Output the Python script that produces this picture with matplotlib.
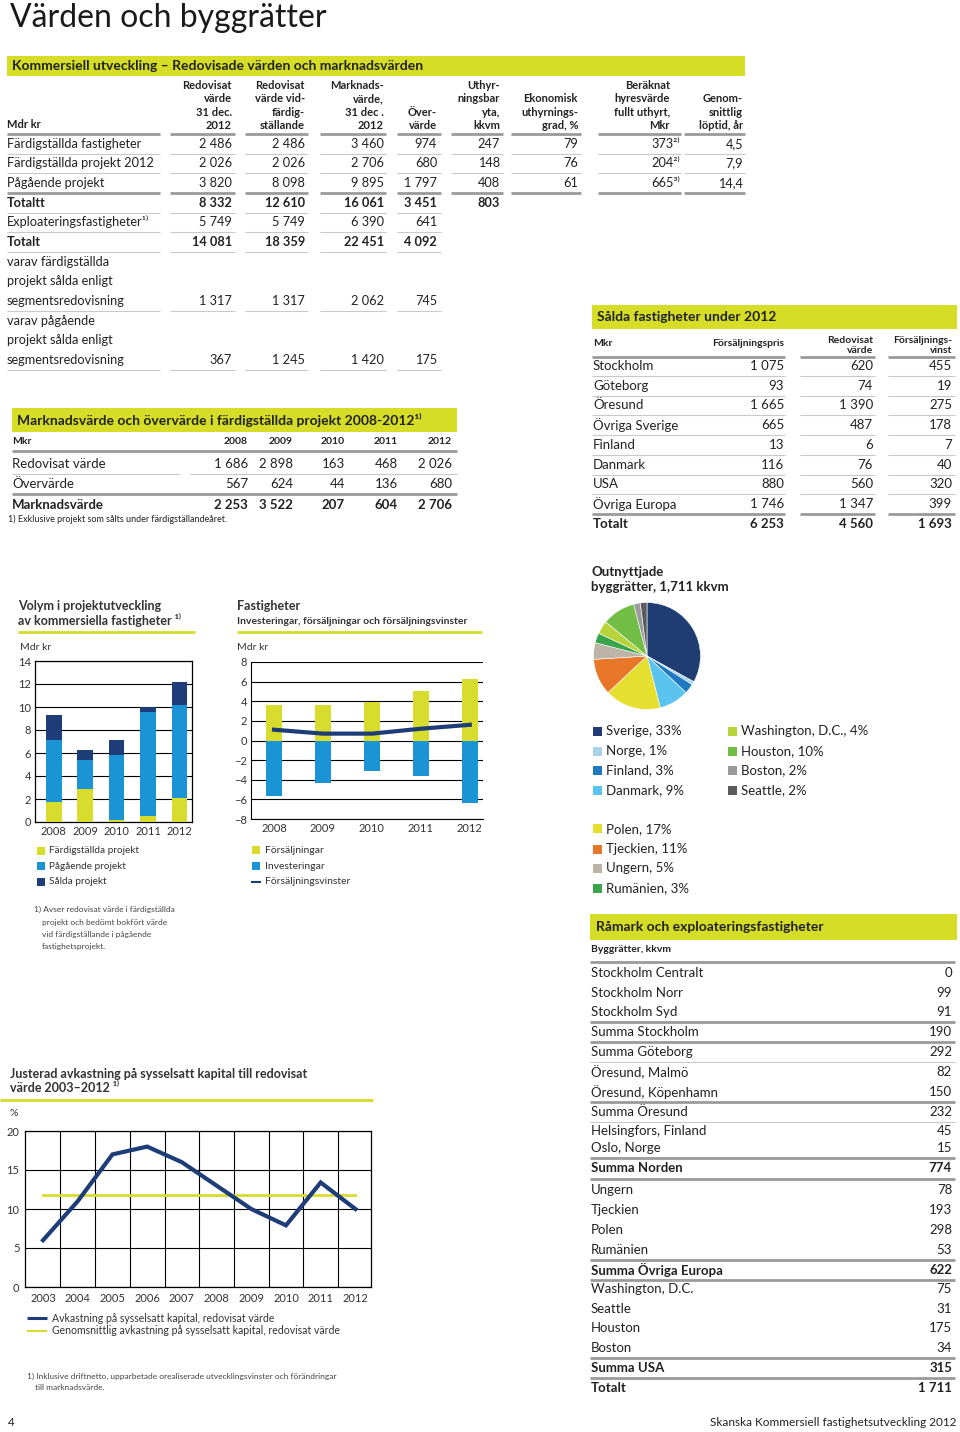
import matplotlib
matplotlib.use("Agg")
import matplotlib.pyplot as plt
from matplotlib.lines import Line2D
from matplotlib.patches import Rectangle

plt.rcParams['font.family'] = ['Lato', 'DejaVu Sans']

W, H = 960, 1432
GREEN = "#d5dd26"
YEL = "#d8dc2c"
BLUE = "#1a94d4"
NAVY = "#1d3c78"
TXT = "#222222"
THICK = "#9a9a9a"
THIN = "#c9c9c9"

# ---------------- data ----------------
top_cols = ["Redovisat\nvärde\n31 dec.\n2012", "Redovisat\nvärde vid-\nfärdig-\nställande",
            "Marknads-\nvärde,\n31 dec .\n2012", "Över-\nvärde", "Uthyr-\nningsbar\nyta,\nkkvm",
            "Ekonomisk\nuthyrnings-\ngrad, %", "Beräknat\nhyresvärde\nfullt uthyrt,\nMkr",
            "Genom-\nsnittlig\nlöptid, år"]
top_rows = ["Färdigställda fastigheter", "Färdigställda projekt 2012", "Pågående projekt", "Totaltt",
            "Exploateringsfastigheter¹⁾", "Totalt", "varav färdigställda", "projekt sålda enligt",
            "segmentsredovisning", "varav pågående", "projekt sålda enligt", "segmentsredovisning"]
top_vals = [
    ["2 486", "2 486", "3 460", "974", "247", "79", "373²⁾", "4,5"],
    ["2 026", "2 026", "2 706", "680", "148", "76", "204²⁾", "7,9"],
    ["3 820", "8 098", "9 895", "1 797", "408", "61", "665³⁾", "14,4"],
    ["8 332", "12 610", "16 061", "3 451", "803", "", "", ""],
    ["5 749", "5 749", "6 390", "641", "", "", "", ""],
    ["14 081", "18 359", "22 451", "4 092", "", "", "", ""],
    ["", "", "", "", "", "", "", ""],
    ["", "", "", "", "", "", "", ""],
    ["1 317", "1 317", "2 062", "745", "", "", "", ""],
    ["", "", "", "", "", "", "", ""],
    ["", "", "", "", "", "", "", ""],
    ["367", "1 245", "1 420", "175", "", "", "", ""],
]
top_bold = [3, 5]

mv_years = ["2008", "2009", "2010", "2011", "2012"]
mv_rows = ["Redovisat värde", "Övervärde", "Marknadsvärde"]
mv_vals = [["1 686", "2 898", "163", "468", "2 026"],
           ["567", "624", "44", "136", "680"],
           ["2 253", "3 522", "207", "604", "2 706"]]

sold_rows = ["Stockholm", "Göteborg", "Öresund", "Övriga Sverige", "Finland", "Danmark", "USA",
             "Övriga Europa", "Totalt"]
sold_price = ["1 075", "93", "1 665", "665", "13", "116", "880", "1 746", "6 253"]
sold_book = ["620", "74", "1 390", "487", "6", "76", "560", "1 347", "4 560"]
sold_gain = ["455", "19", "275", "178", "7", "40", "320", "399", "1 693"]

pie_labels = ["Sverige", "Norge", "Finland", "Danmark", "Polen", "Tjeckien", "Ungern", "Rumänien",
              "Washington, D.C.", "Houston", "Boston", "Seattle"]
pie_pct = [33, 1, 3, 9, 17, 11, 5, 3, 4, 10, 2, 2]
pie_colors = ["#1f3d73", "#aad3ea", "#1f78c1", "#5ac4ef", "#e5e02f", "#e8772a", "#bcb4a6",
              "#3aa44a", "#b9d43a", "#72bd46", "#9b9b9b", "#5b5b5b"]

ram_rows = ["Stockholm Centralt", "Stockholm Norr", "Stockholm Syd", "Summa Stockholm",
            "Summa Göteborg", "Öresund, Malmö", "Öresund, Köpenhamn", "Summa Öresund",
            "Helsingfors, Finland", "Oslo, Norge", "Summa Norden", "Ungern", "Tjeckien", "Polen",
            "Rumänien", "Summa Övriga Europa", "Washington, D.C.", "Seattle", "Houston", "Boston",
            "Summa USA", "Totalt"]
ram_vals = ["0", "99", "91", "190", "292", "82", "150", "232", "45", "15", "774", "78", "193",
            "298", "53", "622", "75", "31", "175", "34", "315", "1 711"]
ram_y = [973, 993, 1012, 1032, 1052, 1072, 1092, 1112, 1131, 1148, 1168, 1190, 1210, 1230, 1250,
         1270, 1289, 1309, 1328, 1348, 1368, 1388]
ram_bold = [10, 15, 20, 21]

vol_years = ["2008", "2009", "2010", "2011", "2012"]
vol_fard = [1.7, 2.9, 0.2, 0.5, 2.1]
vol_pag = [5.4, 2.5, 5.6, 9.1, 8.1]
vol_sald = [2.2, 0.9, 1.3, 0.4, 2.0]

fast_sales = [3.6, 3.6, 3.9, 5.0, 6.3]
fast_inv = [-5.7, -4.3, -3.1, -3.6, -6.4]
fast_gain = [1.1, 0.7, 0.7, 1.2, 1.6]

roce_years = ["2003", "2004", "2005", "2006", "2007", "2008", "2009", "2010", "2011", "2012"]
roce = [6.0, 11.0, 17.0, 18.0, 16.0, 13.0, 10.0, 7.9, 13.4, 10.0]
roce_avg = 11.8

# ---------------- helpers ----------------
fig = plt.figure(figsize=(W / 100, H / 100), dpi=100)
fig.patch.set_facecolor("white")


def X(px):
    return px / W


def Y(py):
    return 1 - py / H


def txt(x, y, s, size=9, bold=False, ha="left", va="center", color=TXT, **kw):
    fig.text(X(x), Y(y), s, fontsize=size, fontweight="bold" if bold else "normal",
             ha=ha, va=va, color=color, **kw)


def hline(x0, x1, y, lw=0.8, color=THIN):
    fig.add_artist(Line2D([X(x0), X(x1)], [Y(y), Y(y)], transform=fig.transFigure,
                          lw=lw, color=color, solid_capstyle="butt"))


def box(x0, y0, x1, y1, color):
    fig.add_artist(Rectangle((X(x0), Y(y1)), (x1 - x0) / W, (y1 - y0) / H,
                             transform=fig.transFigure, color=color, lw=0))


def axes_px(l, t, r, b):
    return fig.add_axes([X(l), Y(b), (r - l) / W, (b - t) / H])


# ---------------- page title ----------------
txt(10, 27, "Värden och byggrätter", size=23, color="#1a1a1a", va="baseline")

# ---------------- top table ----------------
box(7, 56, 745, 76, GREEN)
txt(12, 66, "Kommersiell utveckling – Redovisade värden och marknadsvärden", size=10, bold=True)
col_r = [232, 305, 384, 437, 500, 578, 680, 743]
col_seg = [(170, 235), (245, 308), (320, 386), (397, 441), (451, 503), (511, 581), (598, 681), (684, 745)]
txt(7, 125, "Mdr kr", size=8, bold=True)
for c, lab in enumerate(top_cols):
    txt(col_r[c] if c != 6 else 670, 131, lab, size=8, bold=True, ha="right", va="bottom",
        linespacing=1.25, multialignment="right")
hline(7, 160, 134, lw=2, color=THICK)
for x0, x1 in col_seg:
    hline(x0, x1, 134, lw=2, color=THICK)

row_y = [144, 163, 183, 203, 222, 242, 262, 281, 301, 321, 340, 360]
for i, lab in enumerate(top_rows):
    y = row_y[i]
    txt(7, y, lab, size=9.2, bold=i in top_bold)
    for c, v in enumerate(top_vals[i]):
        if v:
            txt(col_r[c], y, v, size=9.2, bold=i in top_bold, ha="right")
    if i in (6, 7, 9, 10):
        continue
    ncol = 8 if i < 3 else 4
    w = 2 if i == 2 else 0.8
    colr = THICK if i == 2 else THIN
    hline(7, 160, y + 10, lw=w, color=colr)
    for x0, x1 in col_seg[:ncol]:
        hline(x0, x1, y + 10, lw=w, color=colr)

# ---------------- marknadsvärde table ----------------
box(12, 408, 457, 432, GREEN)
txt(17, 420, "Marknadsvärde och övervärde i färdigställda projekt 2008-2012¹⁾", size=10, bold=True)
mv_x = [248, 293, 345, 398, 452]
txt(12, 441, "Mkr", size=7.5, bold=True)
for k, yr in enumerate(mv_years):
    txt(mv_x[k], 441, yr, size=7.5, bold=True, ha="right")
hline(12, 457, 451, lw=2, color=THICK)
mv_y = [464, 484, 505]
for i, lab in enumerate(mv_rows):
    b = i == 2
    txt(12, mv_y[i], lab, size=9.5, bold=b)
    for k, v in enumerate(mv_vals[i]):
        txt(mv_x[k], mv_y[i], v, size=9.5, bold=b, ha="right")
hline(12, 180, 474, lw=0.8)
hline(190, 457, 474, lw=0.8)
hline(12, 457, 494, lw=2, color=THICK)
txt(8, 519, "1) Exklusive projekt som sålts under färdigställandeåret.", size=6.5)

# ---------------- sålda fastigheter ----------------
box(592, 305, 957, 329, GREEN)
txt(597, 317, "Sålda fastigheter under 2012", size=10, bold=True)
txt(593, 343, "Mkr", size=7.5, bold=True)
txt(784, 343, "Försäljningspris", size=7.5, bold=True, ha="right")
txt(873, 355, "Redovisat\nvärde", size=7.5, bold=True, ha="right", va="bottom", linespacing=1.1)
txt(952, 355, "Försäljnings-\nvinst", size=7.5, bold=True, ha="right", va="bottom", linespacing=1.1)
sold_seg = [(592, 785), (800, 875), (888, 955)]
for x0, x1 in sold_seg:
    hline(x0, x1, 357, lw=2, color=THICK)
sold_y = [366, 386, 405, 425, 445, 465, 484, 504, 524]
for i, lab in enumerate(sold_rows):
    b = i == len(sold_rows) - 1
    y = sold_y[i]
    txt(593, y, lab, size=9.5, bold=b)
    txt(784, y, sold_price[i], size=9.5, bold=b, ha="right")
    txt(873, y, sold_book[i], size=9.5, bold=b, ha="right")
    txt(952, y, sold_gain[i], size=9.5, bold=b, ha="right")
    if i < len(sold_rows) - 1:
        nxt = i == len(sold_rows) - 2
        for x0, x1 in sold_seg:
            hline(x0, x1, y + 10, lw=2 if nxt else 0.8, color=THICK if nxt else THIN)

# ---------------- pie ----------------
txt(591, 572, "Outnyttjade", size=9.5, bold=True)
txt(591, 587, "byggrätter, 1,711 kkvm", size=9.5, bold=True)
pax = axes_px(593, 602, 701, 710)
pax.pie(pie_pct, colors=pie_colors, startangle=90, counterclock=False, radius=1,
        wedgeprops=dict(linewidth=0.4, edgecolor="white"))
pax.set_xlim(-1.01, 1.01)
pax.set_ylim(-1.01, 1.01)
pax.set_aspect("equal")
pax.axis("off")

leg_pos = [(593, 731), (593, 751), (593, 770), (593, 790), (593, 829), (593, 849), (593, 868),
           (593, 888), (728, 731), (728, 751), (728, 770), (728, 790)]
for k, lab in enumerate(pie_labels):
    x, y = leg_pos[k]
    box(x, y - 4.5, x + 9, y + 4.5, pie_colors[k])
    txt(x + 13, y, f"{lab}, {pie_pct[k]}%", size=9.5)

# ---------------- råmark ----------------
box(590, 914, 957, 940, GREEN)
txt(596, 927, "Råmark och exploateringsfastigheter", size=10, bold=True)
txt(591, 949, "Byggrätter, kkvm", size=7.5, bold=True)
hline(590, 955, 962, lw=2, color=THICK)
thick_after = [2, 3, 6, 9, 10, 14, 15, 19, 20]
for i, lab in enumerate(ram_rows):
    b = i in ram_bold
    y = ram_y[i]
    txt(591, y, lab, size=9.5, bold=b)
    txt(952, y, ram_vals[i], size=9.5, bold=b, ha="right")
    if i in thick_after:
        nxt = ram_y[i + 1]
        hline(590, 955, (y + nxt) / 2, lw=2, color=THICK)
    elif i in (4, 7):
        hline(590, 955, (y + ram_y[i + 1]) / 2, lw=0.8, color=THIN)

# ---------------- volym chart ----------------
txt(18, 606, "Volym i projektutveckling", size=9, bold=True, color="#333333")
txt(18, 620, "av kommersiella fastigheter ¹⁾", size=9, bold=True, color="#333333")
hline(18, 195, 632, lw=2, color=GREEN)
txt(20, 647, "Mdr kr", size=7.5, color="#333333")
ax1 = axes_px(35, 661, 192, 822)
xs = range(len(vol_years))
bot2 = [a for a in vol_fard]
bot3 = [a + b for a, b in zip(vol_fard, vol_pag)]
ax1.bar(xs, vol_fard, width=0.5, color=YEL, zorder=3)
ax1.bar(xs, vol_pag, width=0.5, bottom=bot2, color=BLUE, zorder=3)
ax1.bar(xs, vol_sald, width=0.5, bottom=bot3, color=NAVY, zorder=3)
ax1.set_ylim(0, 14)
ax1.set_xlim(-0.6, 4.4)
ax1.set_yticks(range(0, 15, 2))
ax1.set_xticks(list(xs))
ax1.set_xticklabels(vol_years)
ax1.grid(axis="y", color="black", lw=0.8, zorder=1)
for s in ax1.spines.values():
    s.set_linewidth(0.9)
ax1.tick_params(length=0, labelsize=8, colors="#333333", pad=3)
vol_leg = [("Färdigställda projekt", YEL, 851), ("Pågående projekt", BLUE, 866), ("Sålda projekt", NAVY, 882)]
for lab, col, y in vol_leg:
    box(37, y - 4, 45, y + 4, col)
    txt(49, y, lab, size=7.2, color="#333333")
txt(34, 909, "1) Avser redovisat värde i färdigställda", size=6, color="#444444")
txt(42, 922, "projekt och bedömt bokfört värde", size=6, color="#444444")
txt(42, 934, "vid färdigställande i pågående", size=6, color="#444444")
txt(42, 946, "fastighetsprojekt.", size=6, color="#444444")

# ---------------- fastigheter chart ----------------
txt(237, 606, "Fastigheter", size=9, bold=True, color="#333333")
txt(237, 621, "Investeringar, försäljningar och försäljningsvinster", size=7.5, bold=True, color="#333333")
hline(237, 482, 632, lw=2, color=GREEN)
txt(237, 647, "Mdr kr", size=7.5, color="#333333")
ax2 = axes_px(251, 662, 483, 819)
ax2.bar(xs, fast_sales, width=0.33, color=YEL, zorder=3)
ax2.bar(xs, fast_inv, width=0.33, color=BLUE, zorder=3)
ax2.plot(list(xs), fast_gain, color=NAVY, lw=3, zorder=4, solid_joinstyle="round")
ax2.set_ylim(-8, 8)
ax2.set_xlim(-0.47, 4.27)
ax2.set_yticks(range(-8, 9, 2))
ax2.set_yticklabels([str(v).replace("-", "−") for v in range(-8, 9, 2)])
ax2.set_xticks(list(xs))
ax2.set_xticklabels(vol_years)
ax2.grid(axis="y", color="black", lw=0.8, zorder=1)
for k in ("top", "right"):
    ax2.spines[k].set_visible(False)
ax2.tick_params(length=0, labelsize=8, colors="#333333", pad=3)
fast_leg = [("Försäljningar", YEL, 850), ("Investeringar", BLUE, 866)]
for lab, col, y in fast_leg:
    box(252, y - 4, 260, y + 4, col)
    txt(265, y, lab, size=7.5, color="#333333")
hline(251, 261, 882, lw=1.5, color=NAVY)
txt(265, 882, "Försäljningsvinster", size=7.5, color="#333333")

# ---------------- avkastning chart ----------------
txt(10, 1074, "Justerad avkastning på sysselsatt kapital till redovisat", size=9, bold=True, color="#333333")
txt(10, 1088, "värde 2003–2012 ¹⁾", size=9, bold=True, color="#333333")
hline(0, 373, 1100, lw=2, color=GREEN)
txt(10, 1113, "%", size=7.5, color="#333333")
ax3 = axes_px(25, 1131, 371, 1287)
xr = list(range(len(roce_years)))
ax3.plot(xr, roce, color=NAVY, lw=3, zorder=4, solid_joinstyle="miter")
ax3.plot([xr[0], xr[-1]], [roce_avg, roce_avg], color=YEL, lw=2, zorder=3)
ax3.set_ylim(0, 20)
ax3.set_xlim(-0.52, 9.45)
ax3.set_yticks([0, 5, 10, 15, 20])
ax3.set_xticks(xr)
ax3.set_xticklabels(roce_years)
ax3.set_xticks([i + 0.5 for i in xr[:-1]], minor=True)
ax3.grid(axis="y", color="black", lw=0.8, zorder=1)
ax3.grid(axis="x", which="minor", color="black", lw=0.8, zorder=1)
ax3.tick_params(which="both", length=0, labelsize=8, colors="#333333", pad=4)
for s in ax3.spines.values():
    s.set_linewidth(0.9)
hline(27, 47, 1318, lw=2.2, color=NAVY)
txt(52, 1318, "Avkastning på sysselsatt kapital, redovisat värde", size=7.6, color="#333333")
hline(27, 47, 1331, lw=1.5, color=YEL)
txt(52, 1331, "Genomsnittlig avkastning på sysselsatt kapital, redovisat värde", size=7.6, color="#333333")
txt(27, 1376, "1) Inklusive driftnetto, upparbetade orealiserade utvecklingsvinster och förändringar",
    size=6, color="#444444")
txt(35, 1388, "till marknadsvärde.", size=6, color="#444444")

# ---------------- footer ----------------
txt(8, 1422, "4", size=8.5)
txt(957, 1422, "Skanska Kommersiell fastighetsutveckling 2012", size=8.5, ha="right")

fig.savefig("out.png", dpi=100)
